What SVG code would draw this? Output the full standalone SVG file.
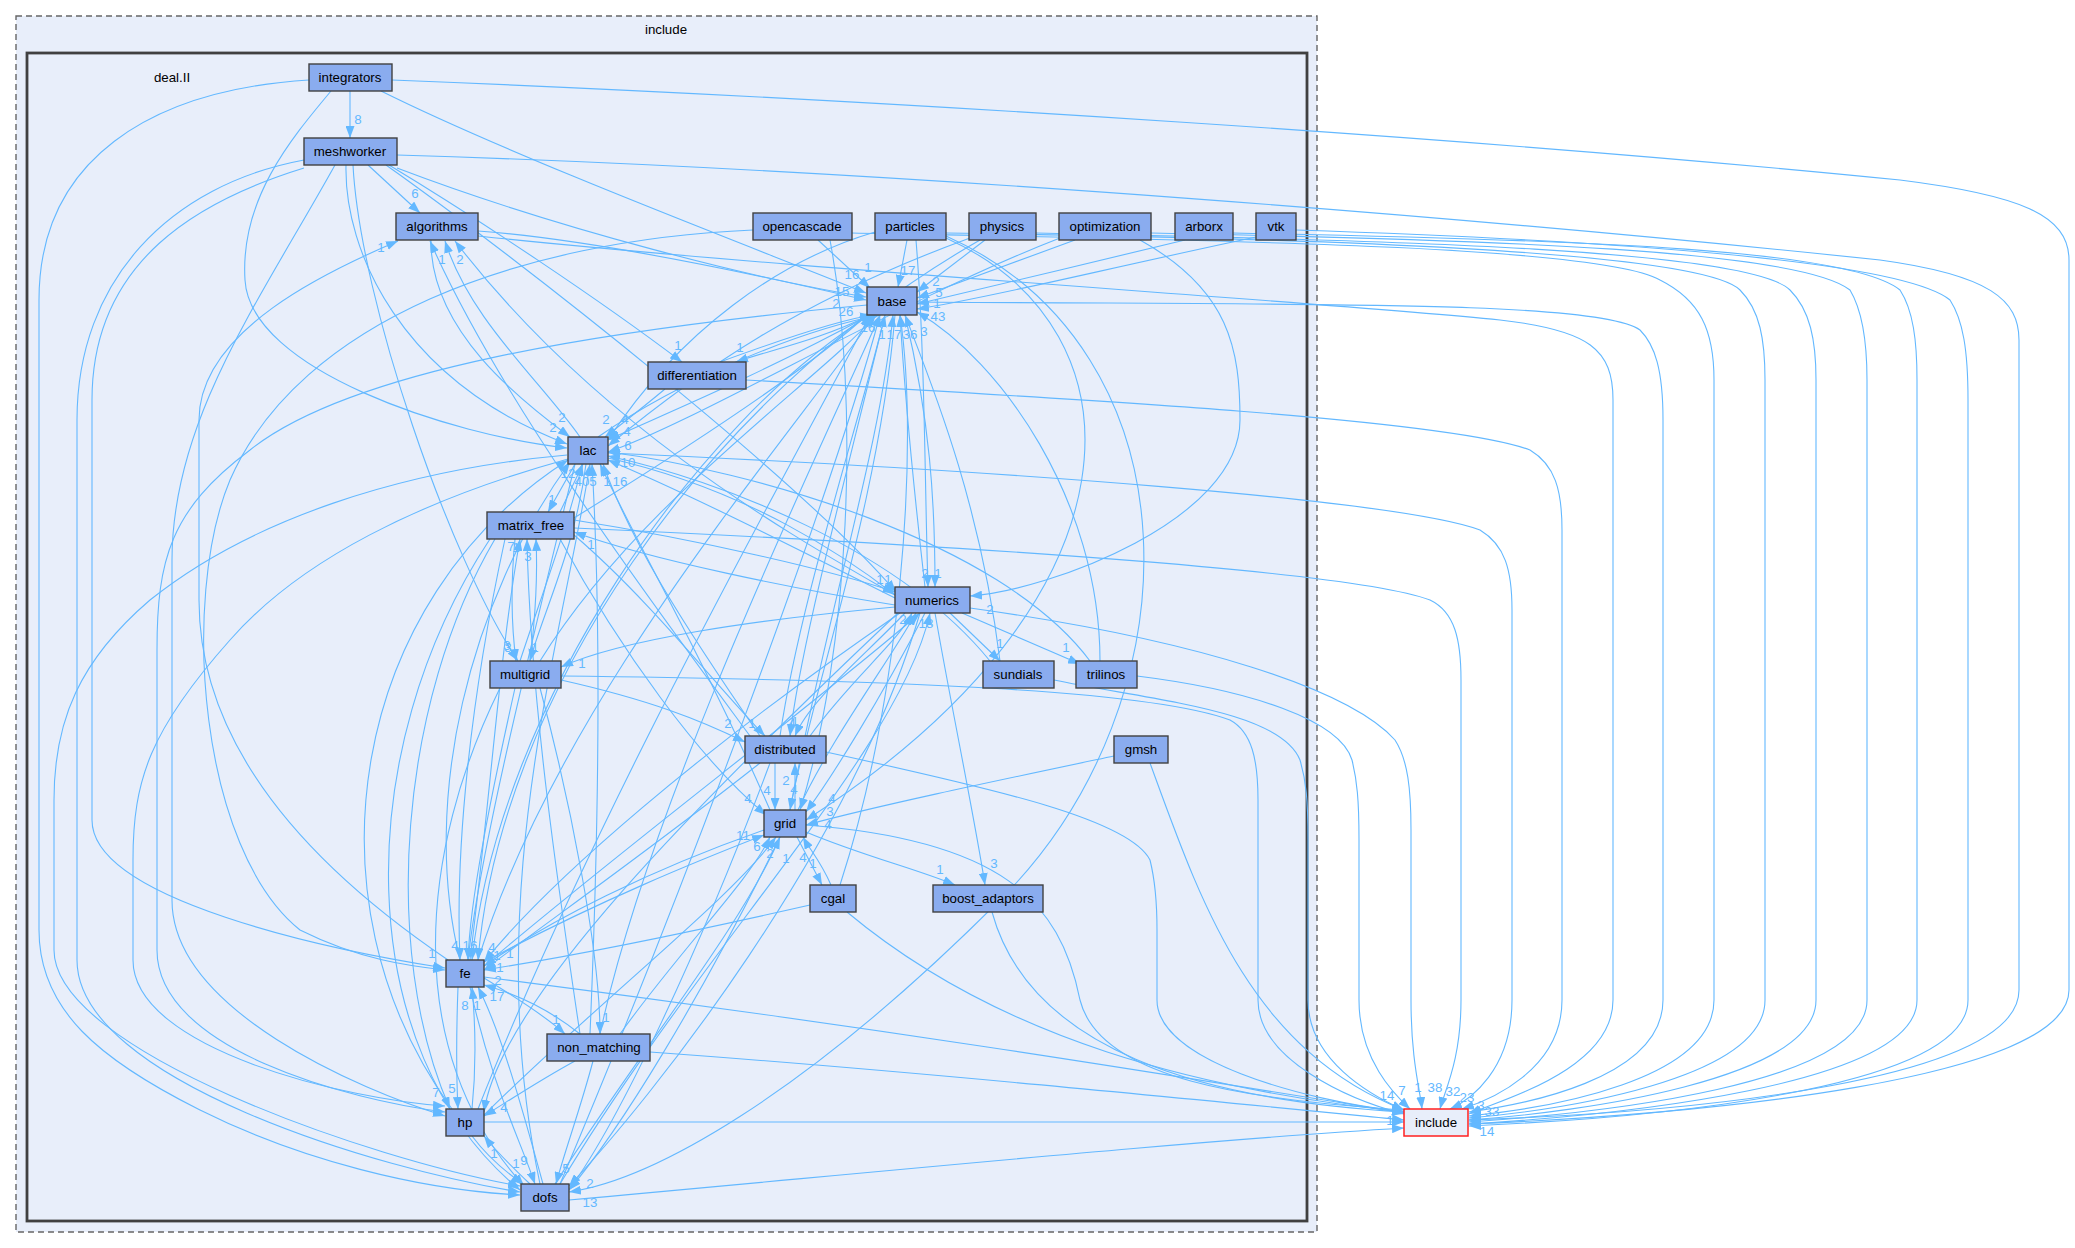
<svg xmlns="http://www.w3.org/2000/svg" width="2075" height="1248" viewBox="0 0 2075 1248">
<style>
.cl{fill:#e8eefa}
.n rect{fill:#8aacef;stroke:#404040;stroke-width:1.4}
.t{font-family:"Liberation Sans",Arial,sans-serif;font-size:13.3px;fill:#000;text-anchor:middle}
.e path{fill:none;stroke:#63b8ff;stroke-width:1.1;marker-end:url(#a)}
.e text{font-family:"Liberation Sans",Arial,sans-serif;font-size:13.3px;fill:#63b8ff;text-anchor:middle}
</style>
<defs>
<marker id="a" markerUnits="userSpaceOnUse" markerWidth="12" markerHeight="9" refX="12" refY="4.5" orient="auto"><path d="M0,0 L12,4.5 L0,9 z" fill="#63b8ff"/></marker>
</defs>
<rect width="2075" height="1248" fill="#fff"/>
<g id="cluster-include">
<rect class="cl" x="16" y="16" width="1301" height="1216" stroke="#666" stroke-width="1.4" stroke-dasharray="6,4"/>
<text class="t" x="666" y="34">include</text>
</g>
<g id="cluster-dealii">
<rect class="cl" x="27" y="53" width="1280" height="1168" stroke="#404040" stroke-width="2.8"/>
<text class="t" x="172" y="82">deal.II</text>
</g>
<g id="connectors" class="e">
<path d="M350,91 L350,138"/><text x="358" y="124">8</text>
<path d="M381,91 C520,160 760,250 866,293"/><text x="852" y="279">16</text>
<path d="M331,91 C290,140 240,200 245,280 C250,370 450,435 567,448"/>
<path d="M309,80 C150,90 39,160 39,300 L39,930 C39,1010 100,1060 200,1110 C300,1160 420,1190 520,1195"/>
<path d="M392,80 C900,100 1500,140 1900,180 C2020,195 2069,215 2069,260 L2069,990 C2069,1080 1700,1115 1469,1124"/>
<path d="M368,165 L420,213"/><text x="415" y="198">6</text>
<path d="M397,168 C560,230 760,280 866,297"/>
<path d="M389,165 C480,220 600,300 682,362"/><text x="678" y="350">1</text>
<path d="M346,165 C344,250 400,380 567,444"/><text x="553" y="432">2</text>
<path d="M386,165 C520,260 800,480 896,592"/><text x="880" y="584">1</text>
<path d="M353,165 C360,300 450,560 518,661"/><text x="507" y="650">3</text>
<path d="M304,168 C200,200 92,260 92,400 L92,820 C92,900 330,950 445,968"/><text x="432" y="958">1</text>
<path d="M335,165 C260,300 172,420 172,560 L172,900 C172,1010 360,1090 445,1116"/><text x="436" y="1097">7</text>
<path d="M304,160 C170,185 77,280 77,420 L77,960 C77,1080 380,1170 520,1192"/>
<path d="M397,155 C900,170 1500,220 1880,260 C1990,275 2019,300 2019,340 L2019,990 C2019,1080 1700,1112 1469,1120"/>
<path d="M478,231 C600,240 780,280 866,300"/><text x="842" y="296">15</text>
<path d="M431,240 C430,330 520,400 570,437"/><text x="562" y="422">2</text>
<path d="M478,236 C800,270 1300,300 1500,320 C1590,330 1613,350 1613,400 L1613,1000 C1613,1070 1500,1100 1469,1114"/>
<path d="M448,960 C330,880 199,760 199,600 L199,420 C199,330 330,270 398,241"/><text x="381" y="252">1</text>
<path d="M895,595 C800,540 600,430 455,241"/><text x="460" y="264">2</text>
<path d="M580,437 C540,380 470,320 445,241"/><text x="442" y="264">1</text>
<path d="M818,240 L870,288"/><text x="868" y="272">1</text>
<path d="M753,230 C520,240 300,320 230,480 C180,600 200,850 300,930 C360,960 410,966 445,970"/>
<path d="M830,240 C860,400 850,650 800,810"/>
<path d="M852,233 C1200,240 1600,245 1660,280 C1700,300 1714,330 1714,380 L1714,1000 C1714,1080 1550,1108 1469,1116"/>
<path d="M907,240 L898,287"/><text x="908" y="275">17</text>
<path d="M916,240 C925,350 925,500 928,587"/><text x="938" y="578">1</text>
<path d="M946,238 C1150,330 1150,600 806,820"/><text x="828" y="829">4</text>
<path d="M875,232 C780,260 680,330 608,440"/><text x="627" y="436">4</text>
<path d="M946,236 C1200,350 1200,700 1000,900 C800,1100 650,1180 569,1192"/>
<path d="M946,233 C1300,238 1700,250 1740,290 C1760,310 1765,340 1765,380 L1765,1000 C1765,1080 1560,1110 1469,1118"/>
<path d="M985,240 L917,292"/><text x="936" y="286">2</text>
<path d="M970,238 C800,300 700,370 608,446"/><text x="628" y="450">6</text>
<path d="M980,240 C700,400 500,700 478,960"/><text x="492" y="952">4</text>
<path d="M1036,233 C1400,240 1750,250 1790,290 C1810,310 1816,340 1816,380 L1816,1000 C1816,1080 1580,1112 1469,1120"/>
<path d="M1075,240 L917,298"/><text x="939" y="297">5</text>
<path d="M1140,240 C1230,290 1240,350 1240,420 C1240,520 1050,590 970,596"/><text x="990" y="614">2</text>
<path d="M1060,238 C900,300 700,420 608,452"/><text x="628" y="467">10</text>
<path d="M1151,233 C1500,240 1800,250 1850,290 C1862,310 1867,340 1867,380 L1867,1000 C1867,1085 1600,1113 1469,1122"/>
<path d="M1185,240 C1100,260 1000,285 917,304"/><text x="937" y="308">1</text>
<path d="M1233,233 C1600,240 1850,250 1900,290 C1913,310 1917,340 1917,380 L1917,1000 C1917,1085 1620,1115 1469,1124"/>
<path d="M1256,237 C1100,270 980,300 917,309"/><text x="938" y="321">43</text>
<path d="M1296,230 C1600,240 1900,260 1950,300 C1963,320 1968,350 1968,400 L1968,1000 C1968,1090 1650,1118 1469,1126"/>
<path d="M870,315 C820,340 770,350 736,362"/><text x="740" y="352">1</text>
<path d="M720,362 C780,340 840,320 872,315"/><text x="868" y="332">16</text>
<path d="M870,315 C750,380 650,420 608,440"/><text x="606" y="424">2</text>
<path d="M598,437 C680,380 800,330 880,315"/><text x="882" y="339">1</text>
<path d="M905,315 C930,420 935,500 935,587"/><text x="925" y="578">2</text>
<path d="M925,587 C915,500 905,400 900,315"/><text x="894" y="339">17</text>
<path d="M917,302 C1300,305 1600,300 1640,330 C1655,345 1663,370 1663,420 L1663,1000 C1663,1080 1520,1105 1469,1112"/>
<path d="M867,305 C600,330 350,370 250,450 C170,510 157,560 157,650 L157,950 C157,1050 350,1100 445,1112"/>
<path d="M567,455 C400,470 250,520 150,600 C80,660 54,720 54,800 L54,950 C54,1050 370,1160 520,1186"/>
<path d="M568,459 C420,500 300,560 230,640 C150,730 133,780 133,860 L133,960 C133,1050 350,1100 445,1106"/>
<path d="M870,315 C700,420 500,700 472,960"/><text x="470" y="950">16</text>
<path d="M895,315 C880,500 810,700 790,810"/><text x="794" y="794">4</text>
<path d="M885,315 C840,500 800,650 790,736"/><text x="795" y="726">1</text>
<path d="M780,736 C800,600 860,420 885,315"/><text x="910" y="339">36</text>
<path d="M790,810 C830,600 880,450 893,315"/><text x="924" y="336">3</text>
<path d="M478,960 C560,700 780,450 875,315"/><text x="846" y="316">26</text>
<path d="M560,1184 C680,900 830,500 880,315"/>
<path d="M478,1109 C600,800 800,450 870,315"/>
<path d="M574,518 C700,440 820,360 870,312"/><text x="836" y="308">2</text>
<path d="M540,661 C640,500 820,380 876,315"/>
<path d="M1000,661 C980,500 930,380 905,315"/>
<path d="M1100,661 C1100,500 1000,360 917,312"/>
<path d="M840,885 C900,700 920,450 900,315"/>
<path d="M600,1034 C650,800 820,450 880,315"/>
<path d="M665,389 C640,410 620,425 605,437"/><text x="625" y="424">4</text>
<path d="M746,380 C1100,400 1450,420 1530,450 C1555,465 1562,490 1562,530 L1562,1000 C1562,1070 1490,1100 1462,1109"/>
<path d="M575,464 L548,512"/><text x="552" y="504">1</text>
<path d="M560,512 L583,464"/><text x="568" y="478">12</text>
<path d="M608,453 C1000,470 1400,500 1480,530 C1505,545 1512,570 1512,610 L1512,1000 C1512,1070 1470,1100 1450,1109"/>
<path d="M608,458 C750,490 850,560 895,595"/>
<path d="M586,464 C575,550 540,620 530,661"/><text x="535" y="652">1</text>
<path d="M575,464 C530,650 480,850 468,960"/><text x="455" y="950">4</text>
<path d="M460,960 C420,800 470,600 570,462"/>
<path d="M452,1109 C300,900 350,600 568,460"/>
<path d="M540,1184 C480,900 560,650 590,464"/><text x="593" y="486">5</text>
<path d="M770,810 C700,650 640,550 600,464"/><text x="607" y="486">1</text>
<path d="M760,736 C680,620 630,540 603,464"/><text x="620" y="486">16</text>
<path d="M895,598 C780,540 680,490 608,460"/>
<path d="M520,661 C540,600 570,520 582,464"/><text x="582" y="486">40</text>
<path d="M590,1034 C600,800 600,600 592,464"/>
<path d="M990,661 C900,550 720,480 608,456"/>
<path d="M1090,661 C1000,540 750,470 608,452"/>
<path d="M574,520 C700,540 830,570 895,592"/><text x="888" y="584">1</text>
<path d="M895,605 C800,590 650,560 574,532"/><text x="591" y="549">1</text>
<path d="M515,539 C510,590 512,630 516,661"/><text x="508" y="652">3</text>
<path d="M530,661 C535,620 538,580 536,539"/><text x="516" y="552">1</text>
<path d="M505,539 C470,700 455,850 460,960"/>
<path d="M470,960 C490,800 500,650 520,539"/><text x="511" y="551">7</text>
<path d="M495,539 C400,700 380,950 450,1109"/>
<path d="M490,539 C350,750 350,1050 520,1190"/>
<path d="M574,535 C650,600 720,690 765,736"/><text x="752" y="728">1</text>
<path d="M560,539 C620,650 700,760 766,815"/><text x="748" y="803">4</text>
<path d="M574,528 C950,545 1350,570 1430,600 C1455,612 1461,640 1461,680 L1461,1000 C1461,1060 1445,1090 1440,1109"/>
<path d="M580,1034 C560,900 530,700 527,539"/><text x="528" y="561">3</text>
<path d="M950,613 L1000,661"/><text x="1000" y="648">1</text>
<path d="M962,613 L1080,664"/><text x="1066" y="652">1</text>
<path d="M935,613 C950,700 975,820 985,885"/><text x="994" y="868">3</text>
<path d="M895,607 C750,620 620,640 561,667"/><text x="582" y="668">1</text>
<path d="M970,608 C1200,640 1350,690 1395,740 C1408,760 1411,790 1411,830 L1411,1000 C1411,1060 1420,1090 1422,1109"/>
<path d="M900,613 C700,750 550,880 484,962"/><text x="510" y="958">1</text>
<path d="M898,613 C700,800 500,1000 484,1112"/>
<path d="M920,613 C850,850 650,1100 569,1186"/><text x="590" y="1188">2</text>
<path d="M925,613 C880,700 830,780 806,812"/><text x="832" y="803">4</text>
<path d="M798,810 C830,740 890,660 916,613"/><text x="926" y="628">18</text>
<path d="M905,613 C860,660 810,700 795,736"/><text x="792" y="728">4</text>
<path d="M810,736 C850,680 900,640 912,613"/><text x="903" y="624">2</text>
<path d="M484,966 C620,850 820,700 920,613"/>
<path d="M560,1184 C700,950 900,750 930,613"/>
<path d="M561,680 C650,700 700,720 745,742"/><text x="728" y="728">2</text>
<path d="M515,688 C490,800 470,900 468,960"/>
<path d="M540,688 C570,800 600,950 600,1034"/><text x="606" y="1022">1</text>
<path d="M500,688 C420,850 400,1050 524,1186"/>
<path d="M561,676 C900,680 1150,690 1230,720 C1252,732 1258,760 1258,800 L1258,1000 C1258,1060 1350,1100 1404,1114"/>
<path d="M1054,680 C1150,700 1280,710 1300,760 C1306,780 1308,800 1308,840 L1308,1000 C1308,1060 1370,1095 1404,1110"/>
<path d="M1137,676 C1250,690 1340,720 1352,760 C1357,780 1359,800 1359,840 L1359,1000 C1359,1060 1395,1095 1410,1109"/>
<path d="M775,763 L775,810"/><text x="767" y="795">4</text>
<path d="M795,810 L795,763"/><text x="786" y="785">2</text>
<path d="M760,763 C650,850 550,920 484,970"/><text x="497" y="960">1</text>
<path d="M770,763 C700,950 620,1120 569,1190"/>
<path d="M826,752 C1000,790 1130,820 1150,860 C1155,880 1157,900 1157,930 L1157,1000 C1157,1060 1300,1100 1404,1112"/>
<path d="M750,736 C650,600 500,400 430,241"/>
<path d="M1114,756 C1000,780 880,805 806,825"/><text x="830" y="816">3</text>
<path d="M1150,763 C1200,900 1250,1050 1404,1110"/>
<path d="M797,837 L822,885"/><text x="813" y="868">1</text>
<path d="M831,885 C820,860 810,850 803,837"/><text x="803" y="862">4</text>
<path d="M806,832 C860,855 920,870 955,885"/><text x="940" y="874">1</text>
<path d="M764,830 C650,870 550,920 484,966"/><text x="500" y="972">1</text>
<path d="M484,962 C600,900 700,860 764,835"/><text x="743" y="840">11</text>
<path d="M780,837 C700,1000 620,1130 569,1190"/>
<path d="M555,1184 C640,1050 740,930 780,837"/><text x="770" y="858">2</text>
<path d="M484,1115 C600,1000 730,900 776,837"/><text x="786" y="863">1</text>
<path d="M620,1034 C680,950 750,880 770,837"/><text x="757" y="851">6</text>
<path d="M806,825 C1000,840 1060,900 1080,1000 C1100,1080 1250,1100 1404,1110"/>
<path d="M810,905 C700,930 580,955 484,970"/><text x="498" y="985">2</text>
<path d="M847,912 C1000,1040 1200,1090 1404,1112"/>
<path d="M992,912 C1030,1050 1200,1100 1404,1112"/>
<path d="M458,987 C456,1040 456,1070 458,1109"/><text x="452" y="1093">5</text>
<path d="M472,1109 C476,1070 476,1030 472,987"/><text x="465" y="1010">8</text>
<path d="M484,978 C520,1000 550,1020 565,1034"/><text x="556" y="1024">1</text>
<path d="M580,1034 C550,1010 520,995 484,985"/><text x="497" y="1001">17</text>
<path d="M470,987 C490,1080 520,1140 535,1184"/><text x="524" y="1165">9</text>
<path d="M543,1184 C520,1100 500,1030 478,987"/><text x="477" y="1010">1</text>
<path d="M484,977 C900,1030 1200,1080 1404,1113"/>
<path d="M575,1061 C540,1080 510,1100 484,1116"/><text x="504" y="1112">4</text>
<path d="M593,1061 C580,1110 565,1150 556,1184"/><text x="566" y="1173">5</text>
<path d="M650,1052 C900,1070 1200,1100 1404,1120"/>
<path d="M472,1136 C490,1160 510,1175 523,1184"/><text x="494" y="1158">1</text>
<path d="M530,1184 C510,1165 495,1150 484,1136"/><text x="516" y="1168">1</text>
<path d="M484,1122 L1404,1122"/>
<path d="M569,1200 C900,1170 1200,1140 1404,1128"/><text x="590" y="1207">13</text>
<text x="1387" y="1100">14</text><text x="1402" y="1095">7</text><text x="1418" y="1092">1</text><text x="1435" y="1092">38</text><text x="1453" y="1096">32</text><text x="1467" y="1102">23</text><text x="1481" y="1110">3</text><text x="1492" y="1116">33</text><text x="1487" y="1136">14</text><text x="1390" y="1125">1</text>
</g>
<g id="node-integrators" class="n"><rect x="309" y="64" width="83" height="27"/><text class="t" x="350" y="82">integrators</text></g>
<g id="node-meshworker" class="n"><rect x="304" y="138" width="93" height="27"/><text class="t" x="350" y="156">meshworker</text></g>
<g id="node-algorithms" class="n"><rect x="396" y="213" width="82" height="27"/><text class="t" x="437" y="231">algorithms</text></g>
<g id="node-opencascade" class="n"><rect x="753" y="213" width="99" height="27"/><text class="t" x="802" y="231">opencascade</text></g>
<g id="node-particles" class="n"><rect x="875" y="213" width="71" height="27"/><text class="t" x="910" y="231">particles</text></g>
<g id="node-physics" class="n"><rect x="969" y="213" width="67" height="27"/><text class="t" x="1002" y="231">physics</text></g>
<g id="node-optimization" class="n"><rect x="1059" y="213" width="92" height="27"/><text class="t" x="1105" y="231">optimization</text></g>
<g id="node-arborx" class="n"><rect x="1175" y="213" width="58" height="27"/><text class="t" x="1204" y="231">arborx</text></g>
<g id="node-vtk" class="n"><rect x="1256" y="213" width="40" height="27"/><text class="t" x="1276" y="231">vtk</text></g>
<g id="node-base" class="n"><rect x="867" y="287" width="50" height="28"/><text class="t" x="892" y="306">base</text></g>
<g id="node-differentiation" class="n"><rect x="648" y="362" width="98" height="27"/><text class="t" x="697" y="380">differentiation</text></g>
<g id="node-lac" class="n"><rect x="568" y="437" width="40" height="27"/><text class="t" x="588" y="455">lac</text></g>
<g id="node-matrix_free" class="n"><rect x="487" y="512" width="87" height="27"/><text class="t" x="531" y="530">matrix_free</text></g>
<g id="node-numerics" class="n"><rect x="895" y="587" width="75" height="26"/><text class="t" x="932" y="605">numerics</text></g>
<g id="node-multigrid" class="n"><rect x="490" y="661" width="71" height="27"/><text class="t" x="525" y="679">multigrid</text></g>
<g id="node-sundials" class="n"><rect x="983" y="661" width="71" height="27"/><text class="t" x="1018" y="679">sundials</text></g>
<g id="node-trilinos" class="n"><rect x="1076" y="661" width="61" height="27"/><text class="t" x="1106" y="679">trilinos</text></g>
<g id="node-distributed" class="n"><rect x="745" y="736" width="81" height="27"/><text class="t" x="785" y="754">distributed</text></g>
<g id="node-gmsh" class="n"><rect x="1114" y="736" width="54" height="27"/><text class="t" x="1141" y="754">gmsh</text></g>
<g id="node-grid" class="n"><rect x="764" y="810" width="42" height="27"/><text class="t" x="785" y="828">grid</text></g>
<g id="node-cgal" class="n"><rect x="810" y="885" width="46" height="27"/><text class="t" x="833" y="903">cgal</text></g>
<g id="node-boost_adaptors" class="n"><rect x="933" y="885" width="110" height="27"/><text class="t" x="988" y="903">boost_adaptors</text></g>
<g id="node-fe" class="n"><rect x="446" y="960" width="38" height="27"/><text class="t" x="465" y="978">fe</text></g>
<g id="node-non_matching" class="n"><rect x="547" y="1034" width="103" height="27"/><text class="t" x="599" y="1052">non_matching</text></g>
<g id="node-hp" class="n"><rect x="446" y="1109" width="38" height="27"/><text class="t" x="465" y="1127">hp</text></g>
<g id="node-dofs" class="n"><rect x="521" y="1184" width="48" height="27"/><text class="t" x="545" y="1202">dofs</text></g>
<g id="node-include"><rect x="1404" y="1109" width="64" height="27" fill="#e8eefa" stroke="#ff2020" stroke-width="1.5"/><text class="t" x="1436" y="1127">include</text></g>
</svg>
